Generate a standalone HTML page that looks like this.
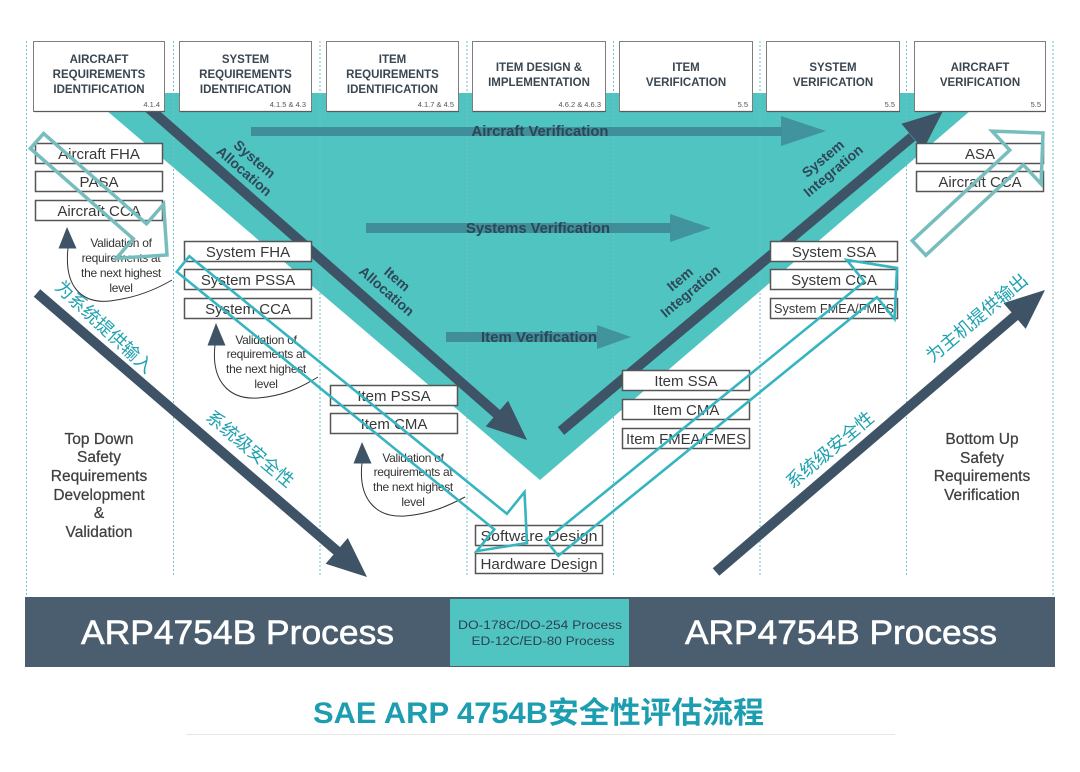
<!DOCTYPE html>
<html>
<head>
<meta charset="utf-8">
<style>
html,body{margin:0;padding:0;background:#fff;}
svg{display:block}
</style>
</head>
<body>
<svg width="1080" height="772" viewBox="0 0 1080 772" xmlns="http://www.w3.org/2000/svg" font-family="'Liberation Sans','Noto Sans CJK SC',sans-serif">
<rect width="1080" height="772" fill="#ffffff"/>

<!-- teal V -->
<polygon points="86,93 991,93 540,480" fill="#50c4c1"/>

<!-- dotted column lines -->
<g stroke="#6fbfcc" stroke-width="1" stroke-dasharray="2,2" fill="none">
  <line x1="26.5" y1="41" x2="26.5" y2="597"/>
  <line x1="173.5" y1="41" x2="173.5" y2="575"/>
  <line x1="320" y1="41" x2="320" y2="575"/>
  <line x1="467" y1="41" x2="467" y2="575"/>
  <line x1="613.5" y1="41" x2="613.5" y2="575"/>
  <line x1="760" y1="41" x2="760" y2="575"/>
  <line x1="906.5" y1="41" x2="906.5" y2="575"/>
  <line x1="1053" y1="41" x2="1053" y2="597"/>
</g>

<!-- verification arrows -->
<g fill="#3f8e9a">
  <rect x="251" y="127" width="531" height="9"/>
  <polygon points="781,116 826,131 781,146" opacity="0.9"/>
  <rect x="366" y="223" width="305" height="10"/>
  <polygon points="670,214 711,228 670,242" opacity="0.9"/>
  <rect x="446" y="332" width="152" height="10"/>
  <polygon points="597,325 631,337 597,349" opacity="0.9"/>
</g>
<g fill="#2c4656" font-weight="bold" font-size="14.5" text-anchor="middle">
  <text x="540" y="136" textLength="137" lengthAdjust="spacingAndGlyphs">Aircraft Verification</text>
  <text x="538" y="233" textLength="144" lengthAdjust="spacingAndGlyphs">Systems Verification</text>
  <text x="539" y="342" textLength="116" lengthAdjust="spacingAndGlyphs">Item Verification</text>
</g>

<!-- dark arrows -->
<g stroke="#3e5366" stroke-width="10" fill="none">
  <line x1="140" y1="100.5" x2="497" y2="414"/>
  <line x1="561" y1="431" x2="912" y2="137"/>
  <line x1="37" y1="293" x2="337" y2="551"/>
  <line x1="716" y1="572" x2="1015" y2="316"/>
</g>
<g fill="#3e5366">
  <polygon points="485.7,426.4 527,440 508.1,400.8"/>
  <polygon points="923.2,149.7 943,111 901.4,123.7"/>
  <polygon points="325.6,563.8 367,577 347.8,538"/>
  <polygon points="1025.7,328.9 1045,290 1003.5,303.1"/>
</g>

<!-- allocation / integration labels -->
<g fill="#2f4858" font-weight="bold" font-size="14" text-anchor="middle">
  <g transform="translate(249.5,165) rotate(41)">
    <text x="0" y="-3">System</text>
    <text x="0" y="13">Allocation</text>
  </g>
  <g transform="translate(392,285) rotate(41)">
    <text x="0" y="-3">Item</text>
    <text x="0" y="13">Allocation</text>
  </g>
  <g transform="translate(828,164.5) rotate(-40)">
    <text x="0" y="-3">System</text>
    <text x="0" y="13">Integration</text>
  </g>
  <g transform="translate(685,285) rotate(-40)">
    <text x="0" y="-3">Item</text>
    <text x="0" y="13">Integration</text>
  </g>
</g>

<!-- header boxes -->
<g fill="#ffffff" stroke="#7d7d7d" stroke-width="1">
  <rect x="33.5" y="41.5" width="131" height="70"/>
  <rect x="179.5" y="41.5" width="132" height="70"/>
  <rect x="326.5" y="41.5" width="132" height="70"/>
  <rect x="472.5" y="41.5" width="133" height="70"/>
  <rect x="619.5" y="41.5" width="133" height="70"/>
  <rect x="766.5" y="41.5" width="133" height="70"/>
  <rect x="914.5" y="41.5" width="131" height="70"/>
</g>
<g stroke="#5a5a5a" stroke-width="1.2">
  <line x1="34" y1="111.5" x2="165" y2="111.5"/>
  <line x1="180" y1="111.5" x2="312" y2="111.5"/>
  <line x1="327" y1="111.5" x2="459" y2="111.5"/>
  <line x1="473" y1="111.5" x2="606" y2="111.5"/>
  <line x1="620" y1="111.5" x2="753" y2="111.5"/>
  <line x1="767" y1="111.5" x2="900" y2="111.5"/>
  <line x1="915" y1="111.5" x2="1046" y2="111.5"/>
</g>
<g fill="#3a4650" font-weight="bold" font-size="11.5" text-anchor="middle">
  <text x="99" y="63">AIRCRAFT</text>
  <text x="99" y="78">REQUIREMENTS</text>
  <text x="99" y="93">IDENTIFICATION</text>
  <text x="245.5" y="63">SYSTEM</text>
  <text x="245.5" y="78">REQUIREMENTS</text>
  <text x="245.5" y="93">IDENTIFICATION</text>
  <text x="392.5" y="63">ITEM</text>
  <text x="392.5" y="78">REQUIREMENTS</text>
  <text x="392.5" y="93">IDENTIFICATION</text>
  <text x="539" y="71">ITEM DESIGN &amp;</text>
  <text x="539" y="86">IMPLEMENTATION</text>
  <text x="686" y="71">ITEM</text>
  <text x="686" y="86">VERIFICATION</text>
  <text x="833" y="71">SYSTEM</text>
  <text x="833" y="86">VERIFICATION</text>
  <text x="980" y="71">AIRCRAFT</text>
  <text x="980" y="86">VERIFICATION</text>
</g>
<g fill="#555" font-size="7.5" text-anchor="end">
  <text x="160" y="107">4.1.4</text>
  <text x="306" y="107">4.1.5 &amp; 4.3</text>
  <text x="454" y="107">4.1.7 &amp; 4.5</text>
  <text x="601" y="107">4.6.2 &amp; 4.6.3</text>
  <text x="748" y="107">5.5</text>
  <text x="895" y="107">5.5</text>
  <text x="1041" y="107">5.5</text>
</g>

<!-- small boxes -->
<g fill="#ffffff" stroke="#555" stroke-width="1.5">
  <rect x="35.5" y="143.5" width="127" height="20"/>
  <rect x="35.5" y="171.5" width="127" height="20"/>
  <rect x="35.5" y="200.5" width="127" height="20"/>
  <rect x="184.5" y="241.5" width="127" height="20"/>
  <rect x="184.5" y="269.5" width="127" height="20"/>
  <rect x="184.5" y="298.5" width="127" height="20"/>
  <rect x="330.5" y="385.5" width="127" height="20"/>
  <rect x="330.5" y="413.5" width="127" height="20"/>
  <rect x="475.5" y="525.5" width="127" height="20"/>
  <rect x="475.5" y="553.5" width="127" height="20"/>
  <rect x="622.5" y="370.5" width="127" height="20"/>
  <rect x="622.5" y="399.5" width="127" height="20"/>
  <rect x="622.5" y="428.5" width="127" height="20"/>
  <rect x="770.5" y="241.5" width="127" height="20"/>
  <rect x="770.5" y="269.5" width="127" height="20"/>
  <rect x="770.5" y="298.5" width="127" height="20"/>
  <rect x="916.5" y="143.5" width="127" height="20"/>
  <rect x="916.5" y="171.5" width="127" height="20"/>
</g>
<g fill="#383838" font-size="15" text-anchor="middle">
  <text x="99" y="159">Aircraft FHA</text>
  <text x="99" y="187">PASA</text>
  <text x="99" y="216">Aircraft CCA</text>
  <text x="248" y="257">System FHA</text>
  <text x="248" y="285">System PSSA</text>
  <text x="248" y="314">System CCA</text>
  <text x="394" y="401">Item PSSA</text>
  <text x="394" y="429">Item CMA</text>
  <text x="539" y="541" textLength="117" lengthAdjust="spacingAndGlyphs">Software Design</text>
  <text x="539" y="569" textLength="117" lengthAdjust="spacingAndGlyphs">Hardware Design</text>
  <text x="686" y="386">Item SSA</text>
  <text x="686" y="415">Item CMA</text>
  <text x="686" y="444" textLength="120" lengthAdjust="spacingAndGlyphs">Item FMEA/FMES</text>
  <text x="834" y="257">System SSA</text>
  <text x="834" y="285">System CCA</text>
  <text x="834" y="313" font-size="12.7" textLength="120" lengthAdjust="spacingAndGlyphs">System FMEA/FMES</text>
  <text x="980" y="159">ASA</text>
  <text x="980" y="187">Aircraft CCA</text>
</g>

<!-- validation curved arrows -->
<g stroke="#333" stroke-width="1" fill="none">
  <path d="M68,248 C64,285 80,304 110,301 C135,298 155,290 172,280"/>
  <path d="M215,345 C211,380 228,400 258,398 C283,396 300,388 318,377"/>
  <path d="M362,463 C358,498 375,518 405,516 C430,514 448,506 465,497"/>
</g>
<g fill="#3e5366">
  <polygon points="67,227 58.5,248.5 76.5,248.5"/>
  <polygon points="216,323 207.5,345.5 225.5,345.5"/>
  <polygon points="362,442 353.5,463.5 371.5,463.5"/>
</g>
<g fill="#333" font-size="12" text-anchor="middle" letter-spacing="-0.3">
  <text x="121" y="247">Validation of</text>
  <text x="121" y="262">requirements at</text>
  <text x="121" y="277">the next highest</text>
  <text x="121" y="292">level</text>
  <text x="266" y="344">Validation of</text>
  <text x="266" y="358">requirements at</text>
  <text x="266" y="373">the next highest</text>
  <text x="266" y="388">level</text>
  <text x="413" y="462">Validation of</text>
  <text x="413" y="476">requirements at</text>
  <text x="413" y="491">the next highest</text>
  <text x="413" y="506">level</text>
</g>

<!-- hollow teal arrows -->
<g fill="none" stroke-linejoin="miter">
  <polygon points="30.4,148.5 133.3,238.8 116.2,258.4 167,255 163.6,204.2 146.5,223.8 43.6,133.5" stroke="#78bdbd" stroke-width="3.5"/>
  <polygon points="925.8,255.3 1023.4,164.8 1041.1,183.9 1043,133 992.1,131.1 1009.8,150.2 912.2,240.7" stroke="#78bdbd" stroke-width="3.5"/>
  <polygon points="176.7,271.8 494.3,529.4 476.7,551.1 527,543 524.5,492.1 506.9,513.8 189.3,256.2" stroke="#36b5c0" stroke-width="2.6"/>
  <polygon points="558.3,555.8 876.9,297.2 894.5,318.9 897,268 846.7,259.9 864.3,281.6 545.7,540.2" stroke="#36b5c0" stroke-width="2.6"/>
</g>

<!-- chinese labels -->
<g fill="#1fa2b0" font-size="18" text-anchor="middle">
  <text transform="translate(104,327) rotate(43)" x="0" y="6">为系统提供输入</text>
  <text transform="translate(250,449) rotate(40)" x="0" y="6">系统级安全性</text>
  <text transform="translate(830,450) rotate(-40)" x="0" y="6">系统级安全性</text>
  <text transform="translate(977,318) rotate(-40)" x="0" y="6">为主机提供输出</text>
</g>

<!-- side texts -->
<g fill="#404040" font-size="15.5" text-anchor="middle" stroke="#404040" stroke-width="0.25">
  <text x="99" y="444">Top Down</text>
  <text x="99" y="462">Safety</text>
  <text x="99" y="481">Requirements</text>
  <text x="99" y="500">Development</text>
  <text x="99" y="518">&amp;</text>
  <text x="99" y="537">Validation</text>
  <text x="982" y="444">Bottom Up</text>
  <text x="982" y="463">Safety</text>
  <text x="982" y="481">Requirements</text>
  <text x="982" y="500">Verification</text>
</g>

<!-- bottom bar -->
<rect x="25" y="597" width="1030" height="70" fill="#4a5e6f"/>
<rect x="450" y="599" width="179" height="67" fill="#50c4c1"/>
<g fill="#ffffff" font-size="34" text-anchor="middle" stroke="#ffffff" stroke-width="0.6">
  <text x="237.5" y="644" textLength="313" lengthAdjust="spacingAndGlyphs">ARP4754B Process</text>
  <text x="841" y="644" textLength="312" lengthAdjust="spacingAndGlyphs">ARP4754B Process</text>
</g>
<g fill="#2b4152" font-size="11.5" text-anchor="middle">
  <text x="540" y="629" textLength="164" lengthAdjust="spacingAndGlyphs">DO-178C/DO-254 Process</text>
  <text x="543" y="645" textLength="143" lengthAdjust="spacingAndGlyphs">ED-12C/ED-80 Process</text>
</g>

<!-- title -->
<text x="538.5" y="723" fill="#1c9db0" font-size="30" font-weight="bold" text-anchor="middle" textLength="451" lengthAdjust="spacingAndGlyphs">SAE ARP 4754B安全性评估流程</text>
<line x1="186" y1="734.5" x2="895" y2="734.5" stroke="#e6e6e6" stroke-width="1"/>
</svg>
</body>
</html>
